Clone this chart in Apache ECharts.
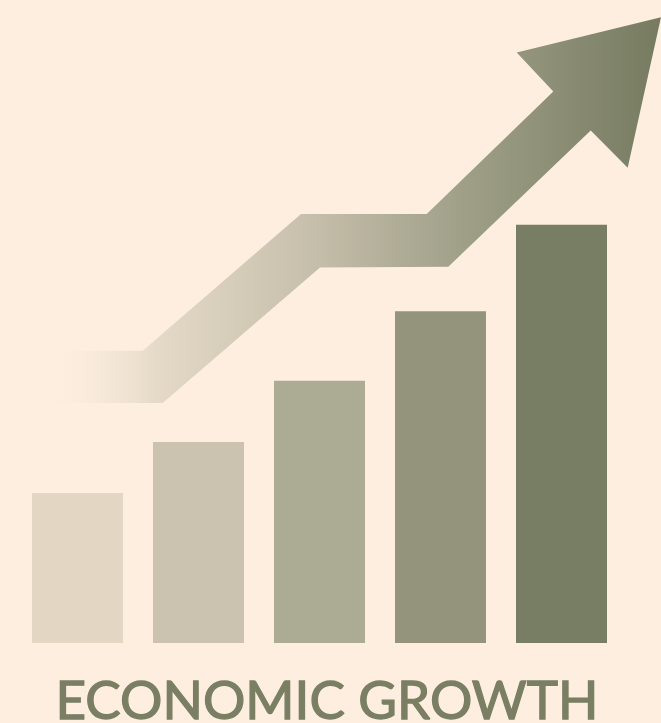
<!DOCTYPE html>
<html>
<head>
<meta charset="utf-8">
<script src="https://cdn.jsdelivr.net/npm/echarts@6/dist/echarts.min.js"></script>
<style>
html,body{margin:0;padding:0;background:#FEEEE0;}
#chart{width:661px;height:723px;}
</style>
</head>
<body>
<div id="chart"></div>
<script>
// Data
var categories = ['1', '2', '3', '4', '5'];
var barValues = [2.5, 3.35, 4.37, 5.53, 6.97];
var barColors = ['#E3D7C4', '#CBC3AF', '#ACAB93', '#93947B', '#787E64'];
// Arrow outline (x in pixel-like units 0..661, y in bar value units)
var arrowX = [40, 142.7, 301, 426.7, 553.3, 516.7, 661, 627.7, 590.7, 448.3, 320, 162.7, 40];
var arrowY = [4.87, 4.87, 7.15, 7.15, 9.19, 9.84, 10.43, 7.92, 8.54, 6.27, 6.26, 4.0, 4.0];
var titleText = 'ECONOMIC GROWTH';

var chart = echarts.init(document.getElementById('chart'));
var option = {
  backgroundColor: '#FEEEE0',
  animation: false,
  title: {
    text: titleText,
    left: 322,
    top: 670,
    textAlign: 'center',
    textStyle: {
      color: '#7A7F64',
      fontFamily: 'Lato',
      fontWeight: 'normal',
      fontSize: 53,
      textBorderColor: '#7A7F64',
      textBorderWidth: 1.3
    }
  },
  grid: [
    {left: 17, right: 39, top: 43, bottom: 80},
    {left: 0, right: 0, top: 43, bottom: 80}
  ],
  xAxis: [
    {type: 'category', data: categories, gridIndex: 0, show: false},
    {type: 'value', min: 0, max: 661, gridIndex: 1, show: false}
  ],
  yAxis: [
    {type: 'value', min: 0, max: 10, gridIndex: 0, show: false},
    {type: 'value', min: 0, max: 10, gridIndex: 1, show: false}
  ],
  series: [
    {
      type: 'bar',
      xAxisIndex: 0,
      yAxisIndex: 0,
      barWidth: 91,
      data: barValues.map(function (v, i) {
        return {value: v, itemStyle: {color: barColors[i]}};
      }),
      silent: true
    },
    {
      type: 'custom',
      xAxisIndex: 1,
      yAxisIndex: 1,
      data: [[0, 0]],
      silent: true,
      renderItem: function (params, api) {
        var pts = arrowX.map(function (x, i) {
          return api.coord([x, arrowY[i]]);
        });
        return {
          type: 'polygon',
          shape: {points: pts},
          style: {
            fill: new echarts.graphic.LinearGradient(0, 0, 1, 0, [
              {offset: 0, color: 'rgba(253,237,224,0)'},
              {offset: 0.193, color: '#E3D9C6'},
              {offset: 0.419, color: '#C9C1AD'},
              {offset: 0.676, color: '#A0A089'},
              {offset: 1, color: '#767B60'}
            ])
          }
        };
      }
    }
  ]
};
chart.setOption(option);
</script>
</body>
</html>
